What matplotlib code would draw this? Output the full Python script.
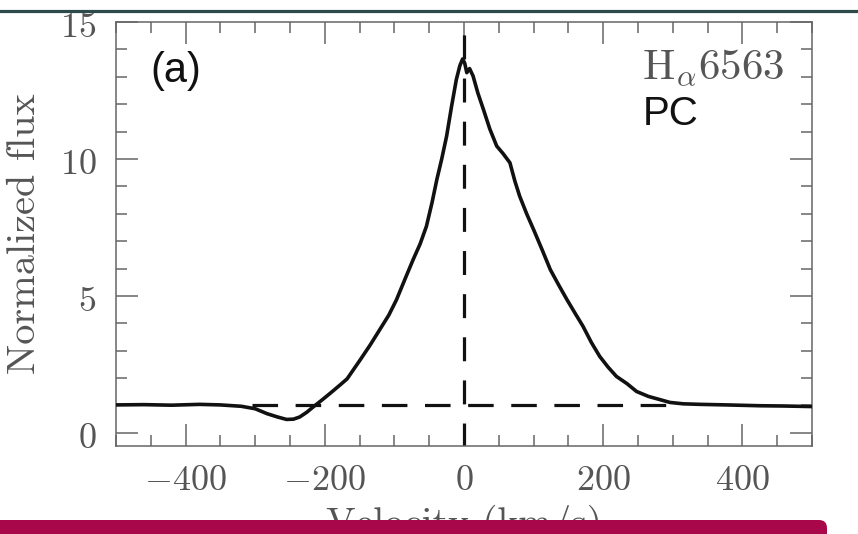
import matplotlib
matplotlib.use("Agg")
import matplotlib.pyplot as plt
import matplotlib.transforms as mtransforms
from matplotlib.lines import Line2D
from matplotlib.patches import FancyBboxPatch
from matplotlib.ticker import MultipleLocator

plt.rcParams['font.family'] = 'cmr10'
plt.rcParams['mathtext.fontset'] = 'cm'
plt.rcParams['axes.formatter.use_mathtext'] = True

# spectrum
velocity = [-500, -460, -420, -380, -350, -320, -300, -283, -268, -255, -245, -236,
            -226, -216, -205, -192, -178, -168, -149, -135, -121, -108, -97, -85,
            -73, -63, -54, -46, -39, -32, -25, -18, -11, -6, -2, 1, 4, 8, 13, 20,
            28, 37, 47, 56, 66, 73, 80, 90, 100, 112, 124, 136, 148, 160, 171, 183,
            195, 207, 219, 234, 248, 265, 282, 296, 315, 340, 377, 425, 460, 500]
flux = [1.02, 1.03, 1.01, 1.04, 1.02, 0.97, 0.88, 0.70, 0.58, 0.49, 0.50, 0.58,
        0.75, 0.96, 1.18, 1.45, 1.75, 1.97, 2.67, 3.20, 3.77, 4.30, 4.86, 5.60,
        6.33, 6.90, 7.54, 8.40, 9.25, 10.0, 10.83, 11.9, 12.9, 13.4, 13.65, 13.5,
        13.15, 13.3, 13.03, 12.4, 11.8, 11.1, 10.47, 10.2, 9.86, 9.2, 8.64, 8.0,
        7.42, 6.7, 5.96, 5.4, 4.86, 4.35, 3.89, 3.3, 2.79, 2.4, 2.06, 1.8, 1.51,
        1.33, 1.21, 1.11, 1.06, 1.04, 1.02, 0.99, 0.98, 0.96]

continuum = 1.0
cont_range = [-305, 298]
line_center = 0.0

fig = plt.figure(figsize=(8.58, 5.34), dpi=100)
ax = fig.add_axes([116/858, 1-446/534, 696/858, 424/534])

ax.plot(velocity, flux, color='#111111', lw=2.6, zorder=3)
ax.plot(cont_range, [continuum, continuum], color='#111111', lw=2.3,
        dashes=(8, 5.5), zorder=2)
ax.plot([line_center, line_center], [-0.5, 15], color='#111111', lw=2.3,
        dashes=(7.5, 6), zorder=2)

ax.set_xlim(-500, 500)
ax.set_ylim(-0.48, 15)
ax.xaxis.set_major_locator(MultipleLocator(200))
ax.xaxis.set_minor_locator(MultipleLocator(50))
ax.yaxis.set_major_locator(MultipleLocator(5))
ax.yaxis.set_minor_locator(MultipleLocator(1))

gray = '#666666'
ax.tick_params(which='both', direction='in', top=True, right=True, color=gray,
               width=1.1, labelcolor='#555555', labelsize=26)
ax.tick_params(which='major', length=16, pad=14)
ax.tick_params(which='minor', length=8)
for s in ax.spines.values():
    s.set_color(gray)
    s.set_linewidth(1.1)

# y tick labels sit a touch low in the original
shift = mtransforms.ScaledTranslation(0, -3/100, fig.dpi_scale_trans)
for lbl in ax.get_yticklabels():
    lbl.set_transform(lbl.get_transform() + shift)

ax.set_ylabel('Normalized flux', fontsize=29, color='#555555', labelpad=12)
ax.set_xlabel('Velocity (km/s)', fontsize=28.5, color='#555555', labelpad=5.5)

ax.text(0.05, 0.858, '(a)', transform=ax.transAxes, fontsize=30,
        family='Liberation Sans', color='#111111', va='baseline')
ax.text(0.756, 0.866, r'$\mathrm{H}_{\alpha}\mathrm{6563}$', transform=ax.transAxes,
        fontsize=31, color='#555555', va='baseline')
ax.text(0.757, 0.757, 'PC', transform=ax.transAxes, fontsize=29,
        family='Liberation Sans', color='#111111', va='baseline')

# page decorations
fig.add_artist(Line2D([0, 1], [1-10.5/534, 1-10.5/534], transform=fig.transFigure,
                      color='#2d4949', lw=2.3))
banner = FancyBboxPatch((-20, -20), 847, 34, boxstyle='round,pad=0,rounding_size=8',
                        transform=None, facecolor='#a8084a', edgecolor='none', zorder=10)
fig.add_artist(banner)

fig.savefig('out.png', dpi=100)
